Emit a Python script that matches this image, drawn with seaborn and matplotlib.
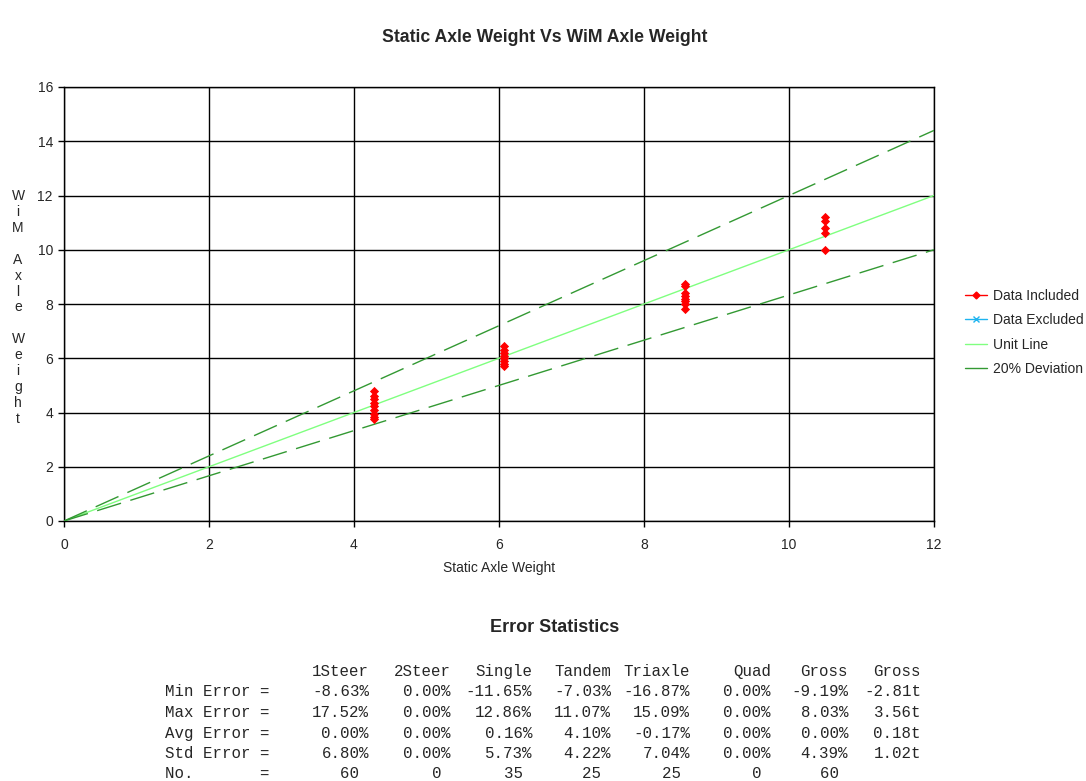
import matplotlib
matplotlib.use("Agg")
import matplotlib.pyplot as plt
import seaborn as sns
import pandas as pd
from matplotlib.lines import Line2D

# =====================================================
# DATA
# =====================================================

static_x = (
    [4.28] * 9
    + [6.07] * 8
    + [8.57] * 8
    + [10.5] * 5
)
wim_y = [
    4.8, 4.6, 4.5, 4.35, 4.25, 4.1, 3.95, 3.85, 3.75,
    6.45, 6.3, 6.2, 6.1, 6.0, 5.9, 5.8, 5.7,
    8.75, 8.65, 8.4, 8.3, 8.2, 8.1, 8.0, 7.8,
    11.2, 11.05, 10.8, 10.6, 10.0,
]

line_x = [0, 12]
unit_y = [0, 12]
upper_y = [0, 14.4]
lower_y = [0, 10]

legend_labels = ["Data Included", "Data Excluded", "Unit Line", "20% Deviation"]

stat_columns = ["1Steer", "2Steer", "Single", "Tandem", "Triaxle", "Quad", "Gross", "Gross"]
stat_rows = ["Min Error =", "Max Error =", "Avg Error =", "Std Error =", "No.       ="]
stat_values = [
    ["-8.63%", "0.00%", "-11.65%", "-7.03%", "-16.87%", "0.00%", "-9.19%", "-2.81t"],
    ["17.52%", "0.00%", "12.86%", "11.07%", "15.09%", "0.00%", "8.03%", "3.56t"],
    ["0.00%", "0.00%", "0.16%", "4.10%", "-0.17%", "0.00%", "0.00%", "0.18t"],
    ["6.80%", "0.00%", "5.73%", "4.22%", "7.04%", "0.00%", "4.39%", "1.02t"],
    ["60 ", "0 ", "35 ", "25 ", "25 ", "0 ", "60 ", ""],
]

# =====================================================
# STYLE
# =====================================================

sns.set_theme(style="white")
plt.rcParams["font.family"] = ["Liberation Sans", "DejaVu Sans"]

W, H = 1086, 781
fig = plt.figure(figsize=(W / 100, H / 100), dpi=100)

ax = fig.add_axes([64 / W, 1 - 521 / H, (934 - 64) / W, (521 - 87) / H])

# =====================================================
# PLOT
# =====================================================

df = pd.DataFrame({"static": static_x, "wim": wim_y})
lines = pd.DataFrame({"x": line_x, "unit": unit_y, "upper": upper_y, "lower": lower_y})

sns.lineplot(data=lines, x="x", y="unit", ax=ax, color="#80FF80", lw=1.0, zorder=3)
sns.lineplot(data=lines, x="x", y="upper", ax=ax, color="#339933", lw=1.0, zorder=3)
sns.lineplot(data=lines, x="x", y="lower", ax=ax, color="#339933", lw=1.0, zorder=3)
for ln in ax.lines[-2:]:
    ln.set_dashes((18, 7))

sns.scatterplot(data=df, x="static", y="wim", ax=ax, marker="D", s=22,
                color="red", edgecolor="red", linewidth=0, zorder=4)

ax.set_xlim(0, 12)
ax.set_ylim(0, 16)
ax.set_xticks(range(0, 13, 2))
ax.set_yticks(range(0, 17, 2))
ax.grid(True, color="black", lw=1.0)
ax.set_axisbelow(True)
for s in ax.spines.values():
    s.set_color("black")
    s.set_linewidth(1.0)
ax.tick_params(axis="both", direction="out", length=4, width=1, color="black",
               labelsize=10, bottom=True, left=True)
ax.tick_params(axis="x", pad=8)
ax.tick_params(axis="y", pad=4)
ax.set_xlabel("Static Axle Weight", fontsize=10, labelpad=7)
ax.set_ylabel("")

fig.text(18 / W, 1 - 307.5 / H, "W\ni\nM\n\nA\nx\nl\ne\n\nW\ne\ni\ng\nh\nt",
         ha="center", va="center", ma="center", fontsize=10, linespacing=1.175)

fig.text(545 / W, 1 - 37 / H, "Static Axle Weight Vs WiM Axle Weight",
         ha="center", va="center", fontsize=12.7, fontweight="bold")

handles = [
    Line2D([], [], color="red", marker="D", markersize=3.5, lw=1),
    Line2D([], [], color="#1EB4F0", marker="x", markersize=5, lw=1),
    Line2D([], [], color="#80FF80", lw=1),
    Line2D([], [], color="#339933", lw=1),
]
fig.legend(handles, legend_labels, loc="center left",
           bbox_to_anchor=(965 / W, 1 - 332.5 / H), frameon=False, fontsize=10,
           handlelength=1.6, handletextpad=0.45, labelspacing=0.75,
           borderpad=0, borderaxespad=0)

# =====================================================
# ERROR STATISTICS
# =====================================================

fig.text(555 / W, 1 - 628 / H, "Error Statistics", ha="center", va="center",
         fontsize=13, fontweight="bold")

mono = ["Liberation Mono", "DejaVu Sans Mono"]
fs_mono = 11.3
col_right = [369, 451, 532, 611, 690, 771, 848, 921]
row_center = [671, 691, 712, 733, 753, 773]

for cx, name in zip(col_right, stat_columns):
    fig.text(cx / W, 1 - (row_center[0] + 5) / H, name, ha="right", va="baseline",
             family=mono, fontsize=fs_mono)

for r, label in enumerate(stat_rows):
    y = 1 - (row_center[r + 1] + 5) / H
    fig.text(165 / W, y, label, ha="left", va="baseline", family=mono, fontsize=fs_mono)
    for cx, val in zip(col_right, stat_values[r]):
        fig.text(cx / W, y, val, ha="right", va="baseline", family=mono, fontsize=fs_mono)

fig.savefig("out.png", dpi=100, facecolor="white")
plt.close(fig)
